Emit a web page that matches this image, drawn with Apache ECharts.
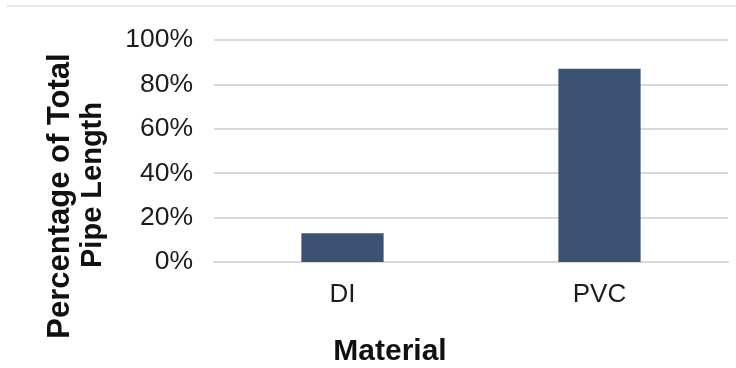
<!DOCTYPE html>
<html>
<head>
<meta charset="utf-8">
<script src="https://cdn.jsdelivr.net/npm/echarts@6/dist/echarts.min.js"></script>
<style>
html,body{margin:0;padding:0;background:#fff;}
#chart{width:736px;height:368px;}
</style>
</head>
<body>
<div id="chart"></div>
<script>
var categories = ['DI', 'PVC'];
var values = [13, 87];
var yTicks = [0, 20, 40, 60, 80, 100];
var xTitle = 'Material';
var yTitleLines = ['Percentage of Total', 'Pipe Length'];

var font = '"Liberation Sans", Arial, sans-serif';
var chart = echarts.init(document.getElementById('chart'), null, {renderer: 'canvas'});
chart.setOption({
  animation: false,
  backgroundColor: '#ffffff',
  grid: {left: 214, right: 8, top: 40, bottom: 106, containLabel: false},
  xAxis: {
    type: 'category',
    data: categories,
    axisLine: {show: true, lineStyle: {color: '#d9d9d9', width: 2}},
    axisTick: {show: false},
    axisLabel: {color: '#1c1c1c', fontFamily: font, fontSize: 26, margin: 20}
  },
  yAxis: {
    type: 'value',
    min: yTicks[0],
    max: yTicks[yTicks.length - 1],
    interval: 20,
    axisLine: {show: false},
    axisTick: {show: false},
    splitLine: {lineStyle: {color: '#d9d9d9', width: 2}},
    axisLabel: {color: '#1c1c1c', fontFamily: font, fontSize: 26.5, margin: 21, formatter: '{value}%'}
  },
  series: [{
    type: 'bar',
    data: values,
    barWidth: '32%',
    itemStyle: {color: '#3b5274'}
  }],
  graphic: [
    {type: 'line', shape: {x1: 7, y1: 6, x2: 736, y2: 6}, style: {stroke: '#dedede', lineWidth: 1.5}, silent: true},
    {type: 'text', x: 390, y: 352, style: {text: xTitle, font: 'bold 30px ' + font, fill: '#111', textAlign: 'center', textVerticalAlign: 'middle'}},
    {type: 'text', x: 60, y: 196, rotation: Math.PI / 2, style: {text: yTitleLines[0], font: 'bold 31px ' + font, fill: '#111', textAlign: 'center', textVerticalAlign: 'middle'}},
    {type: 'text', x: 93, y: 185, rotation: Math.PI / 2, style: {text: yTitleLines[1], font: 'bold 29px ' + font, fill: '#111', textAlign: 'center', textVerticalAlign: 'middle'}}
  ]
});
</script>
</body>
</html>
